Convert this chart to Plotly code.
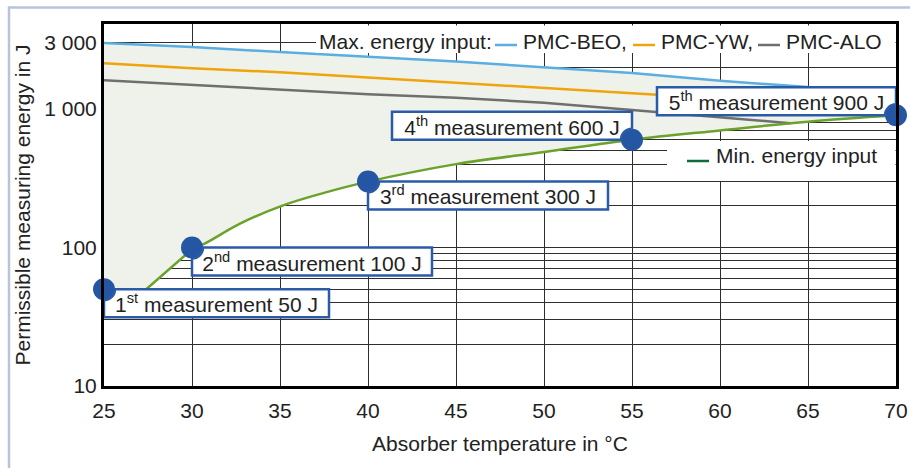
import numpy as np
import plotly.graph_objects as go

# ---------------- data ----------------
temp_beo = [25, 30, 35, 40, 45, 55, 60, 65, 70]
energy_beo = [3000, 2800, 2580, 2380, 2200, 1820, 1600, 1440, 1300]

temp_yw = [25, 30, 35, 40, 45, 55, 70]
energy_yw = [2140, 1970, 1840, 1690, 1560, 1300, 1000]

temp_alo = [25, 30, 35, 40, 45, 50, 55, 64]
energy_alo = [1610, 1490, 1390, 1280, 1205, 1110, 985, 790]

temp_min = [25, 27.4, 30, 30.8, 32.7, 35.1, 37.5, 40, 45, 50, 55, 60, 65, 70]
energy_min = [50, 50, 97, 108, 148, 200, 248, 299, 400, 490, 600, 700, 810, 900]

meas_temp = [25, 30, 40, 55, 70]
meas_energy = [50, 100, 300, 600, 900]
meas_labels = ["1<sup>st</sup> measurement 50 J",
               "2<sup>nd</sup> measurement 100 J",
               "3<sup>rd</sup> measurement 300 J",
               "4<sup>th</sup> measurement 600 J",
               "5<sup>th</sup> measurement 900 J"]

series_names = ["PMC-BEO,", "PMC-YW,", "PMC-ALO"]
max_legend_title = "Max. energy input:"
min_legend_title = "Min. energy input"

x_ticks = [25, 30, 35, 40, 45, 50, 55, 60, 65, 70]
y_ticks = [10, 100, 1000, 3000]
y_ticktext = ["10", "100", "1 000", "3 000"]
y_minor = [20, 30, 40, 50, 60, 70, 80, 90, 200, 300, 400, 500, 600, 700, 800, 900, 2000]

# ---------------- style ----------------
FONT = "Liberation Sans, Arial, Helvetica, sans-serif"
FS = 21
TXT = "#222222"
BLUE = "#5aaee0"
ORANGE = "#f0a30a"
GRAY = "#6f6f6f"
GREEN = "#6aa22c"
DARKGREEN = "#12693a"
DOT = "#2456a4"
BOXLINE = "#2b5ba7"
FILL = "#eff2ea"
GRID = "#2e2e2e"

# figure geometry (px) used only for placing legend decorations
W_FIG, H_FIG = 910, 468
ML, MR, MT, MB = 104, 14, 24, 82
PW, PH = W_FIG - ML - MR, H_FIG - MT - MB


def px(xp):
    return (xp - ML) / PW


def py(yp):
    return (MT + PH - yp) / PH


fig = go.Figure()

# shaded permissible region (between max BEO curve and min-energy curve)
fig.add_trace(go.Scatter(
    x=temp_beo + temp_min[::-1], y=energy_beo + energy_min[::-1],
    fill="toself", fillcolor=FILL, line=dict(width=0), mode="lines",
    showlegend=False, hoverinfo="skip"))

for tx, ey, nm, col in [(temp_beo, energy_beo, series_names[0], BLUE),
                        (temp_yw, energy_yw, series_names[1], ORANGE),
                        (temp_alo, energy_alo, series_names[2], GRAY)]:
    fig.add_trace(go.Scatter(x=tx, y=ey, mode="lines", name=nm,
                             line=dict(color=col, width=2.5), showlegend=False))

# min-energy curve: straight start, smooth rise afterwards
split = temp_min.index(30)
fig.add_trace(go.Scatter(x=temp_min[:split + 1], y=energy_min[:split + 1], mode="lines",
                         name=min_legend_title,
                         line=dict(color=GREEN, width=2.5), showlegend=False))
fig.add_trace(go.Scatter(x=temp_min[split:], y=energy_min[split:], mode="lines",
                         name=min_legend_title,
                         line=dict(color=GREEN, width=2.5, shape="spline", smoothing=1.0),
                         showlegend=False))

fig.add_trace(go.Scatter(x=meas_temp, y=meas_energy, mode="markers",
                         marker=dict(size=22, color=DOT), cliponaxis=False,
                         showlegend=False))

shapes = []
annotations = []

# label boxes with a notch so the measurement dot stays visible on top
r = 11
k = 0.5523
box_w = [225, 240, 240, 240, 239]
box_h = 28
dirs = [(1, -1), (1, -1), (1, -1), (-1, 1), (-1, 1)]
for t, e, lab, W, (sx, sy) in zip(meas_temp, meas_energy, meas_labels, box_w, dirs):
    p = (f"M {sx*r},0 L {sx*W},0 L {sx*W},{sy*box_h} L 0,{sy*box_h} L 0,{sy*r} "
         f"C {sx*k*r},{sy*r} {sx*r},{sy*k*r} {sx*r},0 Z")
    shapes.append(dict(type="path", path=p, xref="x", yref="y",
                       xsizemode="pixel", ysizemode="pixel", xanchor=t, yanchor=e,
                       fillcolor="white", line=dict(color=BOXLINE, width=2.5),
                       layer="above"))
    annotations.append(dict(x=t, y=np.log10(e), xref="x", yref="y", text=lab,
                            showarrow=False, xanchor="left" if sx > 0 else "right",
                            yanchor="top" if sy < 0 else "bottom",
                            width=W, height=box_h, borderpad=0, borderwidth=0,
                            font=dict(size=FS, color=TXT, family=FONT)))

# ---- legend for maximum energy input (top) ----
shapes.append(dict(type="rect", xref="paper", yref="paper",
                   x0=px(316), x1=px(895.5), y0=py(53), y1=py(25.5),
                   fillcolor="white", line=dict(width=0), layer="above"))
annotations.append(dict(x=px(318), y=py(41), xref="paper", yref="paper",
                        text=max_legend_title, showarrow=False,
                        xanchor="left", yanchor="middle", borderpad=0,
                        font=dict(size=FS, color=TXT, family=FONT)))
for x_dash, x_txt, nm, col in [(495, 522, series_names[0], BLUE),
                               (633, 660, series_names[1], ORANGE),
                               (758, 785, series_names[2], GRAY)]:
    shapes.append(dict(type="line", xref="paper", yref="paper",
                       x0=px(x_dash), x1=px(x_dash + 22), y0=py(45), y1=py(45),
                       line=dict(color=col, width=2.5), layer="above"))
    annotations.append(dict(x=px(x_txt), y=py(41), xref="paper", yref="paper",
                            text=nm, showarrow=False, xanchor="left", yanchor="middle",
                            borderpad=0, font=dict(size=FS, color=TXT, family=FONT)))

# ---- legend for minimum energy input ----
shapes.append(dict(type="rect", xref="paper", yref="paper",
                   x0=px(667), x1=px(895.5), y0=py(181), y1=py(141),
                   fillcolor="white", line=dict(width=0), layer="above"))
shapes.append(dict(type="line", xref="paper", yref="paper",
                   x0=px(687), x1=px(709), y0=py(161), y1=py(161),
                   line=dict(color=DARKGREEN, width=2.5), layer="above"))
annotations.append(dict(x=px(715), y=py(156), xref="paper", yref="paper",
                        text=min_legend_title, showarrow=False, xanchor="left",
                        yanchor="middle", borderpad=0,
                        font=dict(size=FS, color=TXT, family=FONT)))

# outer light frame of the figure
shapes.append(dict(type="line", xref="paper", yref="paper",
                   x0=px(8), x1=px(912), y0=py(7.5), y1=py(7.5),
                   line=dict(color="#b9c5d7", width=2.5), layer="above"))
shapes.append(dict(type="line", xref="paper", yref="paper",
                   x0=px(9), x1=px(9), y0=py(470), y1=py(6.5),
                   line=dict(color="#b9c5d7", width=2.5), layer="above"))

fig.update_layout(
    width=W_FIG, height=H_FIG,
    margin=dict(l=ML, r=MR, t=MT, b=MB),
    paper_bgcolor="white", plot_bgcolor="white",
    font=dict(family=FONT, size=FS, color=TXT),
    showlegend=False,
    shapes=shapes, annotations=annotations,
    xaxis=dict(range=[25, 70], tickvals=x_ticks, showgrid=True, gridcolor=GRID,
               gridwidth=1, zeroline=False, showline=True, linecolor="black",
               linewidth=3, mirror=True, ticks="", automargin=False,
               ticklabelstandoff=4,
               tickfont=dict(size=FS, color=TXT),
               title=dict(text="Absorber temperature in °C", standoff=16,
                          font=dict(size=FS, color=TXT))),
    yaxis=dict(type="log", range=[1, 3.6137], tickvals=y_ticks, ticktext=y_ticktext,
               showgrid=True, gridcolor=GRID, gridwidth=1,
               minor=dict(tickvals=y_minor, showgrid=True, gridcolor=GRID, gridwidth=1,
                          ticks=""),
               zeroline=False, showline=True, linecolor="black", linewidth=3,
               mirror=True, ticks="", automargin=False,
               tickfont=dict(size=FS, color=TXT),
               title=dict(text="Permissible measuring energy in J", standoff=8,
                          font=dict(size=FS, color=TXT))),
)

fig.write_html("out.html", config={"displayModeBar": False},
               post_script="document.body.style.margin='0px';")
